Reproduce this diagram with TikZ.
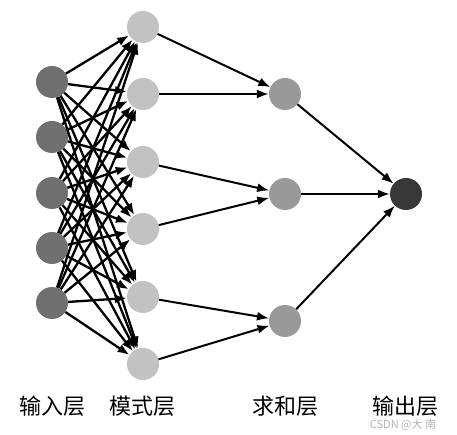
\documentclass[tikz,border=0pt]{standalone}
\usepackage{fontspec}
\newfontfamily\cjk{Noto Sans CJK SC}
\usetikzlibrary{arrows.meta}
\definecolor{ingray}{HTML}{707070}
\definecolor{patgray}{HTML}{C2C2C2}
\definecolor{sumgray}{HTML}{999999}
\definecolor{outgray}{HTML}{383838}
\begin{document}
\begin{tikzpicture}[>={Latex[length=12pt,width=9pt]}, x=1pt, y=-1pt,
    neuron/.style={circle, minimum size=32pt, inner sep=0pt},
    layername/.style={font=\cjk\fontsize{22}{22}\selectfont}]
\useasboundingbox (0,0) rectangle (457,435);

\foreach \i/\y in {1/82,2/137,3/193,4/248,5/303}
{
    \node[neuron, fill=ingray] (i\i) at (52,\y) {};
}
\foreach \j/\y in {1/27,2/94,3/162,4/229,5/297,6/364}
{
    \node[neuron, fill=patgray] (p\j) at (143,\y) {};
}
\foreach \k/\y in {1/94,2/194,3/321}
{
    \node[neuron, fill=sumgray] (s\k) at (285,\y) {};
}
\node[neuron, fill=outgray] (o) at (406,194) {};

\foreach \i in {1,...,5}
{
    \foreach \j in {1,...,6}
    {
        \draw[->, line width=2.3pt] (i\i) -- (p\j);
    }
}
\foreach \j/\k in {1/1,2/1,3/2,4/2,5/3,6/3}
{
    \draw[->, line width=2pt] (p\j) -- (s\k);
}
\foreach \k in {1,2,3}
{
    \draw[->, line width=2pt] (s\k) -- (o);
}

\node[layername] (l1) at (52,406) {输入层};
\node[layername] (l2) at (142,406) {模式层};
\node[layername] (l3) at (285,406) {求和层};
\node[layername] (l4) at (405,406) {输出层};
\node[font=\cjk\fontsize{11}{11}\selectfont, text=black!30] (wm) at (403,425) {CSDN @大 南};
\end{tikzpicture}
\end{document}
